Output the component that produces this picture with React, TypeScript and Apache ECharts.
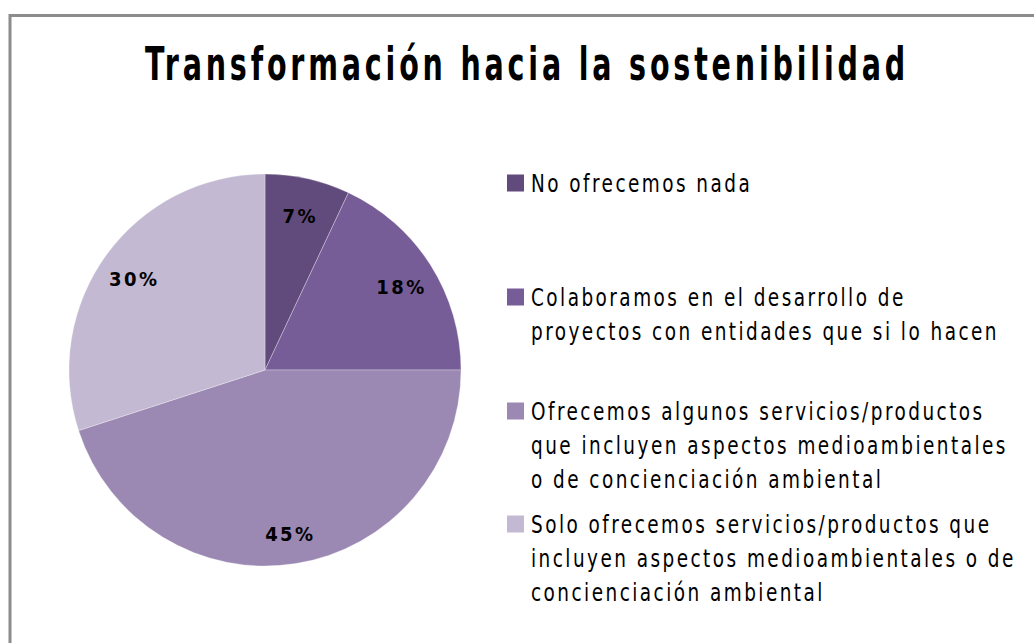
import React, { useEffect, useRef } from "react";
import * as echarts from "echarts";

const titleText = "Transformación hacia la sostenibilidad";
const categoryLines: string[][] = [
  ["No ofrecemos nada"],
  ["Colaboramos en el desarrollo de", "proyectos con entidades que si lo hacen"],
  [
    "Ofrecemos algunos servicios/productos",
    "que incluyen aspectos medioambientales",
    "o de concienciación ambiental",
  ],
  [
    "Solo ofrecemos servicios/productos que",
    "incluyen aspectos medioambientales o de",
    "concienciación ambiental",
  ],
];
const categories = categoryLines.map((l) => l.join(" "));
const values = [7, 18, 45, 30];
const colors = ["#614b7c", "#775d98", "#9b88b3", "#c3b9d2"];

const FONT = "'DejaVu Sans Condensed', 'Liberation Sans Narrow', sans-serif";

export default function App() {
  const ref = useRef<HTMLDivElement>(null);
  useEffect(() => {
    if (!ref.current) return;
    const chart = echarts.init(ref.current, undefined, { renderer: "svg" });
    const cx = 265;
    const cy = 370;
    const legendTops = [166, 280, 394, 507];
    const legendGraphics: any[] = [];
    categoryLines.forEach((lines, i) => {
      legendGraphics.push({
        type: "rect",
        shape: { x: 507, y: legendTops[i] + 8.5, width: 17, height: 17 },
        style: { fill: colors[i] },
      });
      legendGraphics.push({
        type: "text",
        x: 531,
        y: legendTops[i],
        scaleX: 0.82,
        style: {
          text: lines.join("\n"),
          fill: "#000",
          fontFamily: FONT,
          fontSize: 25,
          lineHeight: 34,
          verticalAlign: "top",
          align: "left",
        },
      });
    });
    chart.setOption({
      animation: false,
      backgroundColor: "#fff",
      graphic: [
        {
          type: "rect",
          shape: { x: 10, y: 15.5, width: 1200, height: 800 },
          style: { fill: "none", stroke: "#8c8c8c", lineWidth: 3 },
        },
        {
          type: "text",
          x: 527,
          y: 64,
          scaleX: 0.69,
          style: {
            text: titleText,
            fill: "#000",
            fontFamily: FONT,
            fontSize: 46,
            fontWeight: "bold",
            align: "center",
            verticalAlign: "middle",
          },
        },
        ...legendGraphics,
      ],
      series: [
        {
          type: "pie",
          center: [cx, cy],
          radius: [0, 196],
          startAngle: 90,
          clockwise: true,
          color: colors,
          itemStyle: { borderColor: "rgba(255,255,255,0.5)", borderWidth: 0.6 },
          label: {
            show: true,
            position: "inside",
            formatter: "{c}%",
            fontFamily: FONT,
            fontSize: 20,
            fontWeight: "bold",
            color: "#000",
          },
          labelLine: { show: false },
          labelLayout: (params: any) => {
            const r = params.labelRect;
            const lx = r.x + r.width / 2;
            const ly = r.y + r.height / 2;
            return { dx: (lx - cx) * 0.6, dy: (ly - cy) * 0.6 + 4 };
          },
          emphasis: { disabled: true },
          data: categories.map((name, i) => ({ name, value: values[i] })),
        },
      ],
    });
    return () => chart.dispose();
  }, []);
  return (
    <>
      <style>{".chartbox text { letter-spacing: 0.12em; }"}</style>
      <div
        ref={ref}
        className="chartbox"
        style={{ position: "absolute", left: 0, top: 0, width: 1034, height: 643 }}
      />
    </>
  );
}
